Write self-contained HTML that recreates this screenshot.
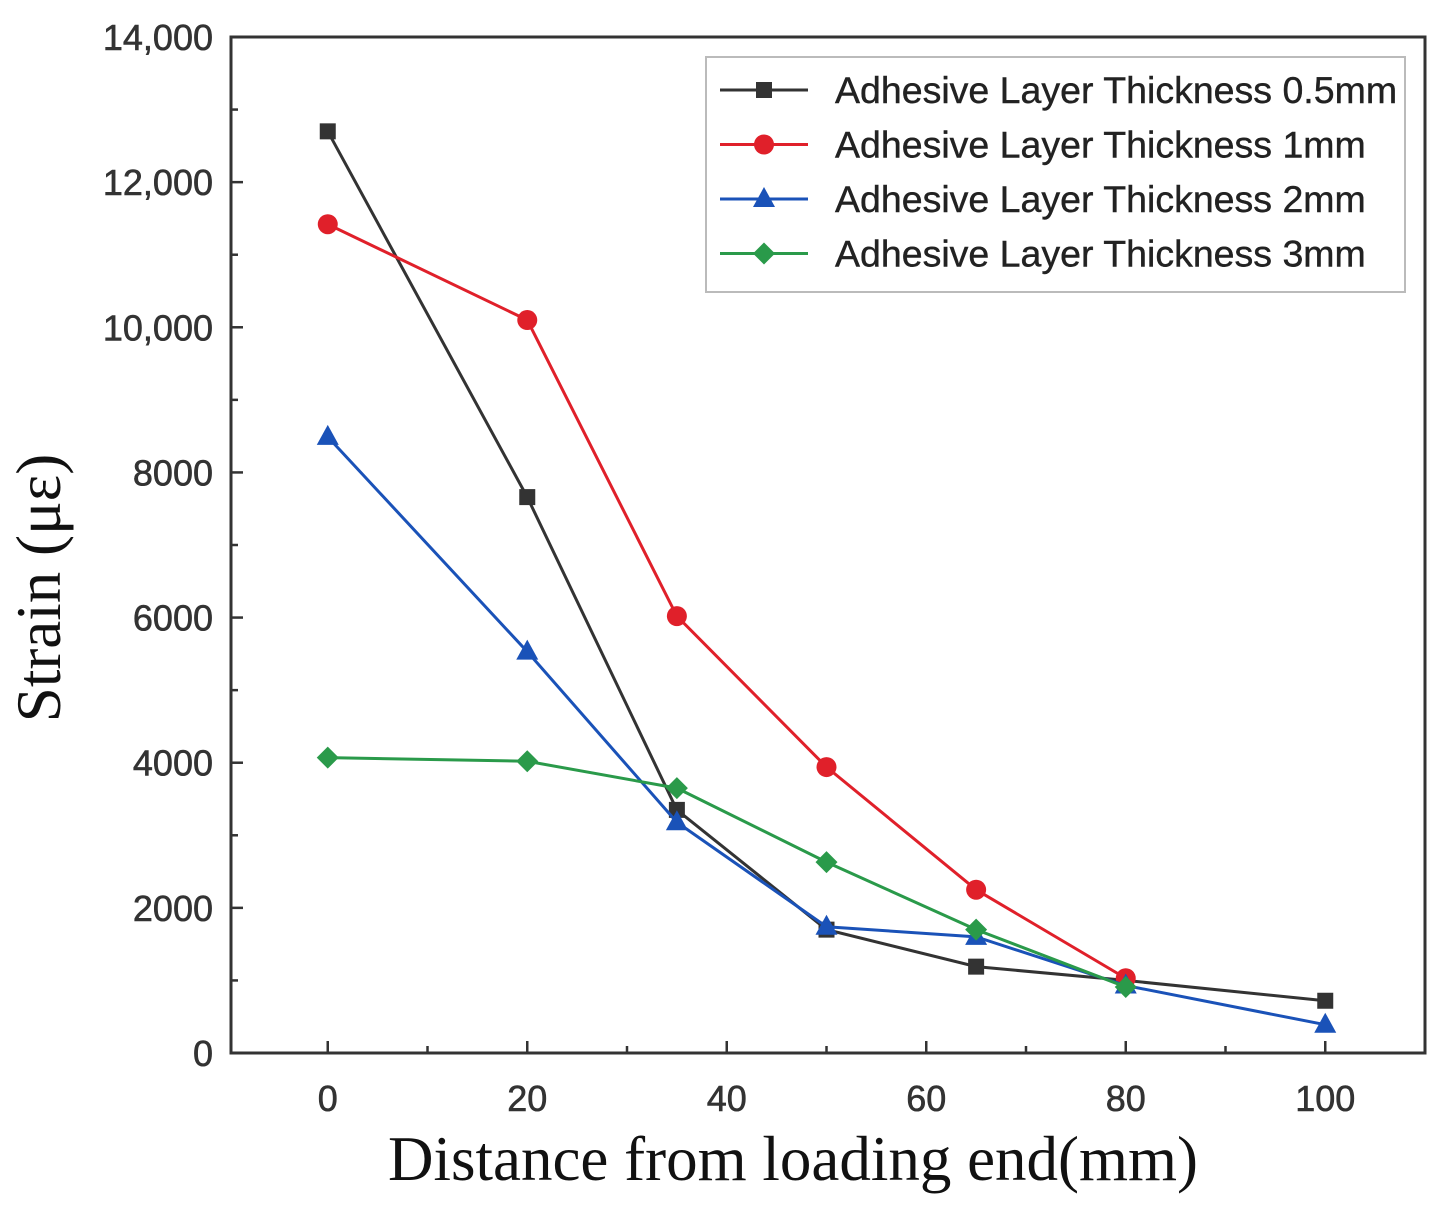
<!DOCTYPE html>
<html><head><meta charset="utf-8"><style>
html,body{margin:0;padding:0;background:#fff;}
svg{display:block;}
.tick{font-family:"Liberation Sans",sans-serif;font-size:36px;fill:#333;stroke:#333;stroke-width:0.6;}
.title{font-family:"Liberation Serif",serif;font-size:63px;fill:#111;}
.leg{font-family:"Liberation Sans",sans-serif;font-size:37.5px;fill:#222;stroke:#222;stroke-width:0.4;}
</style></head><body>
<svg id="chart" width="1445" height="1214" viewBox="0 0 1445 1214"></svg>
<script>
const xCats = [0, 20, 35, 50, 65, 80, 100];
const s05 = [12700, 7660, 3350, 1700, 1190, 1000, 720];
const s1 = [11420, 10100, 6020, 3940, 2250, 1030, null];
const s2 = [8490, 5530, 3180, 1740, 1600, 930, 390];
const s3 = [4070, 4020, 3650, 2630, 1700, 910, null];
const xTicks = [0, 20, 40, 60, 80, 100];
const yTicks = [0, 2000, 4000, 6000, 8000, 10000, 12000, 14000];
const yTickLabels = ["0","2000","4000","6000","8000","10,000","12,000","14,000"];
const seriesNames = ["Adhesive Layer Thickness 0.5mm","Adhesive Layer Thickness 1mm","Adhesive Layer Thickness 2mm","Adhesive Layer Thickness 3mm"];

const NS="http://www.w3.org/2000/svg";
const svg=document.getElementById('chart');
const L=231,R=1425,T=37,B=1053;
const xMin=-9.7,xMax=110,yMax=14000;
const X=v=>L+(v-xMin)/(xMax-xMin)*(R-L);
const Y=v=>B-v/yMax*(B-T);
function mk(tag,attrs,parent){const e=document.createElementNS(NS,tag);for(const k in attrs)e.setAttribute(k,attrs[k]);(parent||svg).appendChild(e);return e;}

const frame=mk('rect',{x:L,y:T,width:R-L,height:B-T,fill:'none',stroke:'#333','stroke-width':3});



for(let v=0;v<=14000;v+=1000){
  const major=v%2000===0;
  const t=mk('line',{x1:L,x2:L+(major?12:7),y1:Y(v),y2:Y(v),stroke:'#333','stroke-width':2.5});
  
  
}
yTicks.forEach((v,i)=>{
  const t=mk('text',{x:L-18,y:Y(v)+13,'text-anchor':'end',class:'tick'});
  t.textContent=yTickLabels[i];
  
  
});
for(let v=0;v<=110;v+=10){
  const major=v%20===0;
  const t=mk('line',{x1:X(v),x2:X(v),y1:B,y2:B-(major?12:7),stroke:'#333','stroke-width':2.5});
  
  
}
xTicks.forEach(v=>{
  const t=mk('text',{x:X(v),y:B+58,'text-anchor':'middle',class:'tick'});
  t.textContent=String(v);
  
  
});
const xt=mk('text',{x:793,y:1180,'text-anchor':'middle',class:'title'});
xt.textContent='Distance from loading end(mm)';


const yt=mk('text',{x:0,y:0,'text-anchor':'middle',class:'title',transform:'translate(60,588) rotate(-90)'});
yt.textContent='Strain (με)';



function marker(shape,cx,cy,color,g){
  let m;
  if(shape==='square') m=mk('rect',{x:cx-8,y:cy-8,width:16,height:16,fill:color},g);
  else if(shape==='circle') m=mk('circle',{cx:cx,cy:cy,r:10,fill:color},g);
  else if(shape==='triangle') m=mk('polygon',{points:`${cx},${cy-12} ${cx-11},${cy+8} ${cx+11},${cy+8}`,fill:color},g);
  else m=mk('polygon',{points:`${cx},${cy-11} ${cx+11},${cy} ${cx},${cy+11} ${cx-11},${cy}`,fill:color},g);
  return m;
}
const series=[[s05,'#333333','square'],[s1,'#e0202a','circle'],[s2,'#1a52b8','triangle'],[s3,'#2a9a4a','diamond']];
series.forEach((s,si)=>{
  const g=mk('g',{});
  
  
  const pts=[];
  xCats.forEach((x,i)=>{if(s[0][i]!=null)pts.push([X(x),Y(s[0][i])]);});
  const pl=mk('polyline',{points:pts.map(p=>p.join(',')).join(' '),fill:'none',stroke:s[1],'stroke-width':3},g);
  
  
  pts.forEach(p=>{
    const m=marker(s[2],p[0],p[1],s[1],g);
    
    
  });
});
const lg=mk('g',{});


const lb=mk('rect',{x:706,y:57,width:699,height:235,fill:'#fff',stroke:'#bbb','stroke-width':2},lg);


series.forEach((s,i)=>{
  const y=90+i*54.5;
  const e=mk('g',{},lg);
  
  
  mk('line',{x1:720,x2:808,y1:y,y2:y,stroke:s[1],'stroke-width':3},e);
  marker(s[2],764,y,s[1],e);
  const t=mk('text',{x:835,y:y+13,class:'leg'},e);
  t.textContent=seriesNames[i];
});
</script>
</body></html>
